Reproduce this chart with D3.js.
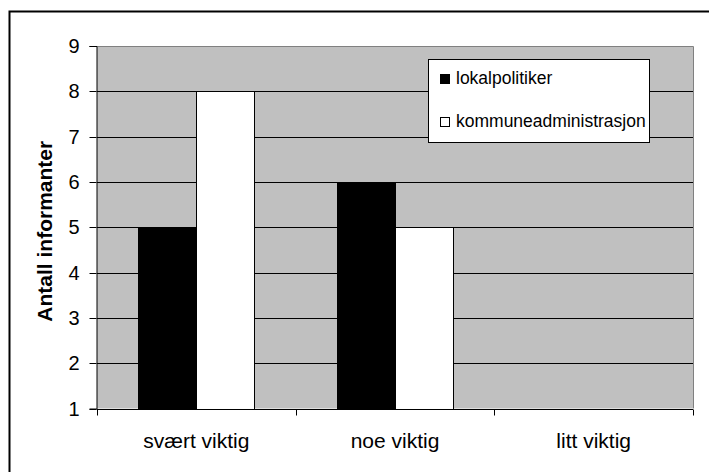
<!DOCTYPE html>
<html>
<head>
<meta charset="utf-8">
<script src="https://cdn.jsdelivr.net/npm/d3@7"></script>
<style>
  html, body { margin: 0; padding: 0; background: #fff; }
  svg { display: block; font-family: Arial, "Liberation Sans", sans-serif; }
</style>
</head>
<body>
<svg id="chart" width="709" height="472"></svg>
<script>
// Data
const categories = ["svært viktig", "noe viktig", "litt viktig"];
const seriesNames = ["lokalpolitiker", "kommuneadministrasjon"];
const lokalpolitiker = [5, 6, null];
const kommuneadministrasjon = [8, 5, null];
const yTicks = [1, 2, 3, 4, 5, 6, 7, 8, 9];
const seriesColors = ["#000000", "#ffffff"];

const svg = d3.select("#chart");
const plot = { left: 97, right: 693, top: 46, bottom: 408.5 };

// Outer chart frame (extends past the right and bottom edges)
svg.append("rect")
  .attr("x", 9.5).attr("y", 11.5)
  .attr("width", 740).attr("height", 500)
  .attr("fill", "#fff").attr("stroke", "#000").attr("stroke-width", 2);

const y = d3.scaleLinear().domain([1, 9]).range([plot.bottom, plot.top]);
const x0 = d3.scaleBand().domain(categories).range([plot.left, plot.right]).padding(0);
const x1 = d3.scaleBand().domain(seriesNames).range([0, x0.bandwidth()])
  .paddingInner(0).paddingOuter(0.7);

// Plot background
svg.append("rect")
  .attr("x", plot.left).attr("y", plot.top)
  .attr("width", plot.right - plot.left).attr("height", plot.bottom - plot.top)
  .attr("fill", "#c0c0c0");

const crisp = v => Math.round(v) + 0.5;

// Horizontal gridlines
svg.append("g").selectAll("line")
  .data(yTicks.filter(t => t > 1 && t < 9))
  .join("line")
  .attr("x1", plot.left).attr("x2", plot.right)
  .attr("y1", d => crisp(y(d))).attr("y2", d => crisp(y(d)))
  .attr("stroke", "#000").attr("stroke-width", 1);

// Plot border on top and right
svg.append("path")
  .attr("d", `M${plot.left},${crisp(plot.top)}H${crisp(plot.right)}V${plot.bottom}`)
  .attr("fill", "none").attr("stroke", "#808080").attr("stroke-width", 1);

// Bars
const series = [lokalpolitiker, kommuneadministrasjon];
series.forEach((vals, si) => {
  svg.append("g").selectAll("rect")
    .data(vals.map((v, i) => ({ cat: categories[i], v })).filter(d => d.v != null))
    .join("rect")
    .attr("x", d => Math.round(x0(d.cat) + x1(seriesNames[si])) + 0.5)
    .attr("width", Math.round(x1.bandwidth()))
    .attr("y", d => crisp(y(d.v)))
    .attr("height", d => crisp(y(1)) - crisp(y(d.v)))
    .attr("fill", seriesColors[si])
    .attr("stroke", "#000").attr("stroke-width", 1);
});

// Y axis
const yAxis = svg.append("g")
  .attr("transform", `translate(${crisp(plot.left) - 1},0)`)
  .call(d3.axisLeft(y).tickValues(yTicks).tickFormat(d3.format("d")).tickSizeOuter(0).tickSize(7).tickPadding(10));
yAxis.select(".domain").attr("stroke", "#000");
yAxis.selectAll(".tick line").attr("stroke", "#000");
yAxis.selectAll(".tick").attr("transform", d => `translate(0,${crisp(y(d))})`);
yAxis.selectAll("text").attr("font-size", 20).attr("fill", "#000")
  .attr("font-family", "Arial, 'Liberation Sans', sans-serif");

// X axis with ticks on category boundaries
const xAxisG = svg.append("g").attr("transform", `translate(0,${crisp(plot.bottom)})`);
xAxisG.append("line")
  .attr("x1", plot.left).attr("x2", plot.right)
  .attr("stroke", "#000");
const boundaries = categories.map(c => x0(c)).concat([plot.right]);
xAxisG.selectAll(".bt").data(boundaries).join("line")
  .attr("class", "bt")
  .attr("x1", d => crisp(d)).attr("x2", d => crisp(d))
  .attr("y1", 0).attr("y2", 6)
  .attr("stroke", "#000");
xAxisG.selectAll("text").data(categories).join("text")
  .attr("x", d => x0(d) + x0.bandwidth() / 2)
  .attr("y", 38)
  .attr("text-anchor", "middle")
  .attr("font-size", 21)
  .text(d => d);

// Y axis title
svg.append("text")
  .attr("transform", `translate(52,${(plot.top + plot.bottom) / 2 + 4}) rotate(-90)`)
  .attr("text-anchor", "middle")
  .attr("font-size", 21)
  .attr("font-weight", "bold")
  .text("Antall informanter");

// Legend
const legend = svg.append("g");
legend.append("rect")
  .attr("x", 428.5).attr("y", 59.5).attr("width", 221).attr("height", 83)
  .attr("fill", "#fff").attr("stroke", "#000");
seriesNames.forEach((name, i) => {
  const ly = 74 + i * 43;
  legend.append("rect")
    .attr("x", 440.5).attr("y", ly + 0.5).attr("width", 9).attr("height", 9)
    .attr("fill", seriesColors[i]).attr("stroke", "#000");
  legend.append("text")
    .attr("x", 456).attr("y", ly + 10)
    .attr("font-size", 17.5)
    .text(name);
});
</script>
</body>
</html>
